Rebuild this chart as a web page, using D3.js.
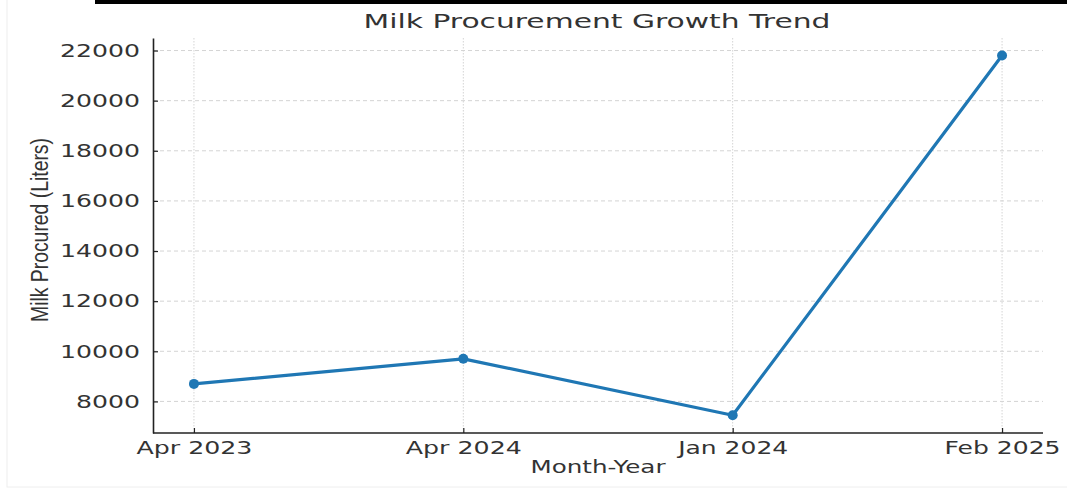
<!DOCTYPE html>
<html><head><meta charset="utf-8">
<script src="https://cdn.jsdelivr.net/npm/d3@7"></script>
<style>body{margin:0;background:#fff;}svg{display:block;}</style>
</head><body>
<svg id="chart" width="1067" height="489"></svg>
<script>
const categories = ["Apr 2023", "Apr 2024", "Jan 2024", "Feb 2025"];
const values = [8700, 9700, 7450, 21800];
const yTicks = [8000, 10000, 12000, 14000, 16000, 18000, 20000, 22000];
const title = "Milk Procurement Growth Trend";
const xLabel = "Month-Year";
const yLabel = "Milk Procured (Liters)";

const W = 1067, H = 489;
const L = 153, R = 1043, T = 38, B = 433;
const svg = d3.select("#chart");
const textColor = "#333";
const lineColor = "#1f77b4";

// frame and top bar
svg.append("rect").attr("x", 7).attr("y", -2).attr("width", W).attr("height", 489).attr("fill", "none").attr("stroke", "#eeeeee").attr("stroke-width", 1);
svg.append("rect").attr("x", 95).attr("y", 0).attr("width", W - 95).attr("height", 4).attr("fill", "#000");

const x = d3.scalePoint().domain(categories).range([L, R]).padding(0.152);
const y = d3.scaleLinear().domain([6740, 22500]).range([B, T]);

// grid
const g = svg.append("g");
g.selectAll("line.hg").data(yTicks).join("line").attr("class", "hg")
  .attr("x1", L).attr("x2", R).attr("y1", d => y(d)).attr("y2", d => y(d))
  .attr("stroke", "#d4d4d4").attr("stroke-width", 1).attr("stroke-dasharray", "4,3");
g.selectAll("line.vg").data(categories).join("line").attr("class", "vg")
  .attr("x1", d => x(d)).attr("x2", d => x(d)).attr("y1", T).attr("y2", B)
  .attr("stroke", "#d4d4d4").attr("stroke-width", 1).attr("stroke-dasharray", "1.5,1.5");

// axes
const yAxis = d3.axisLeft(y).tickValues(yTicks).tickFormat(d3.format("d")).tickSizeInner(-5).tickSizeOuter(0).tickPadding(13);
const ya = svg.append("g").attr("transform", `translate(${L},0)`).call(yAxis);
ya.select(".domain").attr("stroke", "#222").attr("stroke-width", 1.6);
ya.selectAll(".tick line").attr("stroke", "#222").attr("stroke-width", 1.2);
ya.selectAll(".tick text").attr("fill", textColor).attr("font-family", "DejaVu Sans").attr("font-size", 18)
  .attr("textLength", d => d >= 10000 ? 80 : 64).attr("lengthAdjust", "spacingAndGlyphs");

const xAxis = d3.axisBottom(x).tickSizeInner(-5).tickSizeOuter(0).tickPadding(8);
const xa = svg.append("g").attr("transform", `translate(0,${B})`).call(xAxis);
xa.select(".domain").attr("d", `M${L},0H${R}`).attr("stroke", "#222").attr("stroke-width", 1.6);
xa.selectAll(".tick line").attr("stroke", "#222").attr("stroke-width", 1.2);
xa.selectAll(".tick text").attr("fill", textColor).attr("font-family", "DejaVu Sans").attr("font-size", 18)
  .attr("dy", "0.71em")
  .attr("textLength", d => d === "Jan 2024" ? 110 : 116).attr("lengthAdjust", "spacingAndGlyphs");

// line
svg.append("path").datum(values)
  .attr("d", d3.line().x((d, i) => x(categories[i])).y(d => y(d)))
  .attr("fill", "none").attr("stroke", lineColor).attr("stroke-width", 3.2).attr("stroke-linejoin", "round");
svg.selectAll("circle.pt").data(values).join("circle").attr("class", "pt")
  .attr("cx", (d, i) => x(categories[i])).attr("cy", d => y(d)).attr("r", 5).attr("fill", lineColor);

// title and labels
svg.append("text").attr("x", 597).attr("y", 28).attr("text-anchor", "middle")
  .attr("font-family", "DejaVu Sans").attr("font-size", 20).attr("fill", textColor)
  .attr("textLength", 467).attr("lengthAdjust", "spacingAndGlyphs").text(title);
svg.append("text").attr("x", 598).attr("y", 473).attr("text-anchor", "middle")
  .attr("font-family", "DejaVu Sans").attr("font-size", 18).attr("fill", textColor)
  .attr("textLength", 135).attr("lengthAdjust", "spacingAndGlyphs").text(xLabel);
svg.append("text").attr("transform", "translate(48,230) rotate(-90)").attr("text-anchor", "middle")
  .attr("font-family", "Liberation Sans Narrow, Liberation Sans").attr("font-size", 23).attr("fill", textColor)
  .attr("textLength", 184).attr("lengthAdjust", "spacingAndGlyphs").text(yLabel);
</script>
</body></html>
